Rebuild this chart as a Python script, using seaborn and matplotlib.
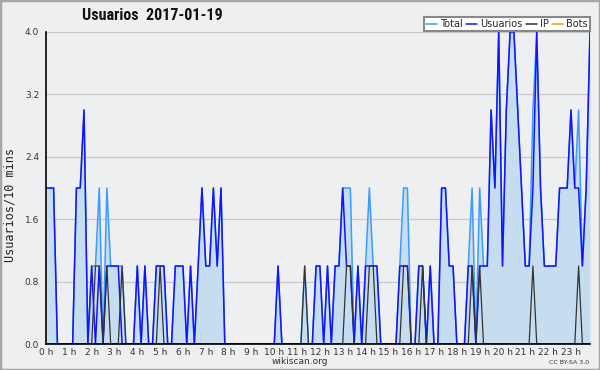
import numpy as np
import pandas as pd
import matplotlib
matplotlib.use("Agg")
import matplotlib.pyplot as plt
import seaborn as sns
from matplotlib import font_manager
from matplotlib.ticker import MultipleLocator, FixedLocator, FormatStrFormatter
from matplotlib.patches import Rectangle
from matplotlib.lines import Line2D

# ---------------- data (one value per 10-minute slot, 00:00 .. 23:50) ----------------
total = [2,2,2,0,0,0,0,0,2,2,3,0,
         1,1,2,0,2,1,1,1,1,0,0,0,
         1,0,1,0,0,1,1,1,0,0,1,1,
         1,0,1,0,1,2,1,1,2,1,2,0,
         0,0,0,0,0,0,0,0,0,0,0,0,
         0,1,0,0,0,0,0,0,1,0,0,1,
         1,0,1,0,1,1,2,2,2,0,1,0,
         1,2,1,1,0,0,0,0,0,1,2,2,
         0,0,1,1,0,1,0,0,2,2,1,1,
         0,0,0,1,2,0,2,1,1,3,2,4,
         1,3,4,4,3,2,1,1,3,4,2,1,
         1,1,1,2,2,2,3,2,3,1,2,4]
usuarios = [2,2,2,0,0,0,0,0,2,2,3,0,
            1,0,1,0,1,1,1,1,0,0,0,0,
            1,0,1,0,0,1,1,1,0,0,1,1,
            1,0,1,0,1,2,1,1,2,1,2,0,
            0,0,0,0,0,0,0,0,0,0,0,0,
            0,1,0,0,0,0,0,0,0,0,0,1,
            1,0,1,0,1,1,2,1,1,0,1,0,
            1,1,1,1,0,0,0,0,0,1,1,1,
            0,0,1,1,0,1,0,0,2,2,1,1,
            0,0,0,1,1,0,1,1,1,3,2,4,
            1,3,4,4,3,2,1,1,2,4,2,1,
            1,1,1,2,2,2,3,2,2,1,2,4]
ip = [0,0,0,0,0,0,0,0,0,0,0,0,
      0,1,1,0,1,0,0,0,1,0,0,0,
      0,0,0,0,0,0,1,0,0,0,0,0,
      0,0,0,0,0,0,0,0,0,0,0,0,
      0,0,0,0,0,0,0,0,0,0,0,0,
      0,0,0,0,0,0,0,0,1,0,0,0,
      0,0,0,0,0,0,0,1,1,0,0,0,
      0,1,1,0,0,0,0,0,0,0,1,1,
      0,0,0,1,0,0,0,0,0,0,0,0,
      0,0,0,0,1,0,1,0,0,0,0,0,
      0,0,0,0,0,0,0,0,1,0,0,0,
      0,0,0,0,0,0,0,0,1,0,0,0]
bots = [0] * 144
series_names = ["Total", "Usuarios", "IP", "Bots"]
hour_labels = [f"{h} h" for h in range(24)]
title = "Usuarios  2017-01-19"
y_label = "Usuarios/10 mins"

# ---------------- style ----------------
bg = "#eeeff1"
fill_col = "#c6ddf0"
colors = {"Total": "#3d9bff", "Usuarios": "#1414ff", "IP": "#333333", "Bots": "#ff9900"}

sns.set_style("white")
plt.rcParams["font.family"] = ["DejaVu Sans"]


def pick_font(cands):
    for c in cands:
        try:
            font_manager.findfont(font_manager.FontProperties(family=c),
                                  fallback_to_default=False)
            return c
        except Exception:
            continue
    return "DejaVu Sans"


narrow = pick_font(["Liberation Sans Narrow", "Roboto Condensed", "Open Sans Condensed"])
narrow_ok = narrow != "DejaVu Sans"

slot_hours = np.arange(len(total)) / 6.0
df = pd.DataFrame({
    "hour": np.tile(slot_hours, 4),
    "value": total + usuarios + ip + bots,
    "series": np.repeat(series_names, len(total)),
})

fig = plt.figure(figsize=(6, 3.7), dpi=100, facecolor=bg)
ax = fig.add_axes([46 / 600, 26 / 370, 544 / 600, 312 / 370])
ax.set_facecolor(bg)

ax.fill_between(slot_hours, total, 0, color=fill_col, lw=0, zorder=1)
sns.lineplot(data=df, x="hour", y="value", hue="series", hue_order=series_names,
             palette=colors, ax=ax, legend=False, lw=1.1, estimator=None)
zord = {"Total": 2, "Usuarios": 3, "IP": 4, "Bots": 1.5}
for line, name in zip(ax.lines, series_names):
    line.set_zorder(zord[name])
ax.lines[2].set_linewidth(0.9)

ax.set_xlim(0, slot_hours[-1])
ax.set_ylim(0, 4.0)
ax.yaxis.set_major_locator(MultipleLocator(0.8))
ax.yaxis.set_minor_locator(MultipleLocator(0.2))
ax.yaxis.set_major_formatter(FormatStrFormatter("%.1f"))
ax.xaxis.set_major_locator(FixedLocator(list(range(24))))
ax.xaxis.set_minor_locator(MultipleLocator(1 / 6))
ax.set_xticklabels(hour_labels)

ax.grid(axis="y", which="major", color="#c9c9c9", lw=0.9)
ax.grid(axis="x", visible=False)
ax.set_axisbelow(True)
for s in ["top", "right"]:
    ax.spines[s].set_visible(False)
for s in ["left", "bottom"]:
    ax.spines[s].set_color("black")
    ax.spines[s].set_linewidth(1.2)
    ax.spines[s].set_zorder(5)

ax.tick_params(axis="both", which="major", direction="out", length=4, width=1,
               color="black", labelsize=6.5, labelcolor="#333333")
ax.tick_params(axis="both", which="minor", direction="out", length=3, width=1, color="black")
ax.tick_params(axis="x", which="major", pad=-1)
ax.tick_params(axis="y", which="major", pad=1)

ax.set_xlabel("")
ax.set_ylabel("")
fig.text(10 / 600, 1 - 205 / 370, y_label, rotation=90, ha="center", va="center",
         family="DejaVu Sans Mono", fontsize=8.5, color="#222222")

if narrow_ok:
    fig.text(152 / 600, 1 - 16 / 370, title, ha="center", va="center",
             family=narrow, fontweight="bold", fontsize=11.5, color="#111111")
else:
    fig.text(152 / 600, 1 - 16 / 370, title, ha="center", va="center",
             fontweight="bold", fontsize=8.3, color="#111111")
fig.text(300 / 600, 1 - 361 / 370, "wikiscan.org", ha="center", va="center",
         fontsize=6.5, color="#333333")
fig.text(589 / 600, 1 - 362 / 370, "CC BY-SA 3.0", ha="right", va="center",
         fontsize=4.5, color="#333333")

handles = [Line2D([], [], color=colors[n], lw=1.1) for n in series_names]
leg = ax.legend(handles, series_names, ncol=4, loc="upper right",
                bbox_to_anchor=(590 / 600, 1 - 17 / 370), bbox_transform=fig.transFigure,
                frameon=True, fancybox=False, edgecolor="#888888", framealpha=1,
                fontsize=7, handlelength=1.1, handletextpad=0.35, columnspacing=0.35,
                borderpad=0.2, borderaxespad=0)
leg.get_frame().set_linewidth(1.5)
leg.set_zorder(10)

fig.patches.append(Rectangle((0, 0), 1, 1, transform=fig.transFigure, fill=False,
                             edgecolor="#a6a6a6", lw=2.5))

fig.savefig("out.png", dpi=100, facecolor=bg)
